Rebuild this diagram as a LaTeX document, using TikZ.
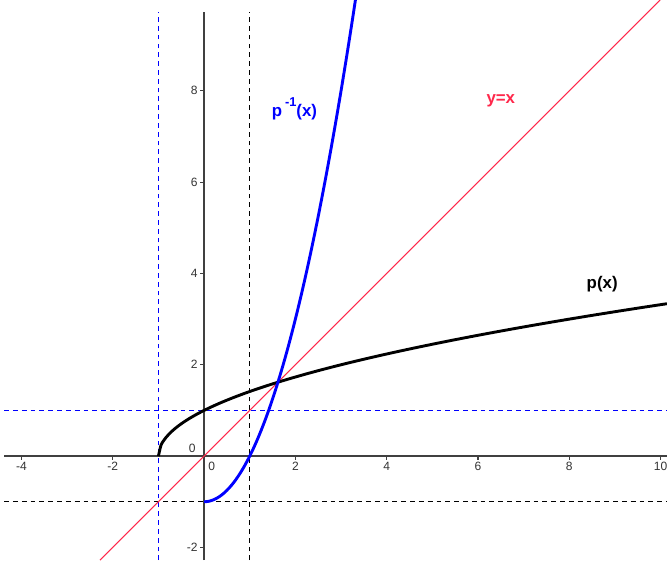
\documentclass[tikz,border=0pt]{standalone}
\usepackage{fontspec}
\setmainfont{Liberation Sans}
\usetikzlibrary{positioning}
\definecolor{ggblue}{RGB}{0,0,255}
\definecolor{ggred}{RGB}{255,40,75}

\begin{document}
\begin{tikzpicture}[
  axis/.style={draw=black!75, line width=1.2pt},
  guide/.style={line width=0.6pt, dash pattern=on 3pt off 2.5pt},
  curve/.style={line width=1.8pt},
  ticklabel/.style={font=\fontsize{7.5}{8}\selectfont, text=black!80, inner sep=1pt},
  fnlabel/.style={font=\fontsize{10.5}{12}\selectfont\bfseries}
]
\useasboundingbox (-4.47,-2.28) rectangle (10.14,9.99);
% guide lines
\draw[guide, ggblue] (-1,-2.28) -- (-1,9.73);
\draw[guide, ggblue] (-4.38,1) -- (10.14,1);
\draw[guide, black] (1,-2.28) -- (1,9.73);
\draw[guide, black] (-4.38,-1) -- (10.14,-1);
% axes
\coordinate (xl) at (-4.38,0);
\coordinate (xr) at (10.14,0);
\coordinate (yb) at (0,-2.28);
\coordinate (yt) at (0,9.73);
\draw[axis] (xl) -- (xr);
\draw[axis] (yb) -- (yt);
\foreach \x in {-4,-2,2,4,6,8,10} {
  \draw[black!75, line width=0.8pt] (\x,0) -- (\x,-0.08);
  \node[ticklabel, below] at (\x,-0.1) {\x};
}
\foreach \y in {-2,2,4,6,8} {
  \draw[black!75, line width=0.8pt] (0,\y) -- (-0.08,\y);
  \node[ticklabel, left] at (-0.1,\y) {\y};
}
\node[ticklabel] (xzero) at (0.17,-0.22) {0};
\node[ticklabel] (yzero) at (-0.26,0.17) {0};
% y = x
\draw[ggred, line width=0.7pt] (-2.28,-2.28) -- (9.99,9.99);
% p and its inverse
\draw[curve, black, domain=-1:10.14, samples=200, smooth] plot (\x,{sqrt(\x+1)});
\draw[curve, ggblue, domain=0:3.33, samples=100, smooth] plot (\x,{\x*\x-1});
% labels
\node[fnlabel, text=ggblue] (pinv) at (1.98,7.6) {p\,\raisebox{1.1ex}{\fontsize{8}{9}\selectfont -1}(x)};
\node[fnlabel, text=ggred] (yeqx) at (6.5,7.78) {y=x};
\node[fnlabel, text=black] (p) at (8.72,3.76) {p(x)};
\end{tikzpicture}
\end{document}
